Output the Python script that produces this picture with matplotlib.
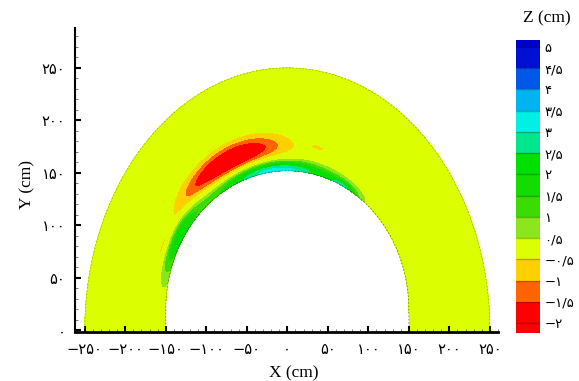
import numpy as np
import matplotlib
matplotlib.use('Agg')
import matplotlib.pyplot as plt
from matplotlib.ticker import MultipleLocator, FuncFormatter

# legend levels (cm) and the colour of each band between them
levels = [-2, -1.5, -1, -0.5, 0.5, 1, 1.5, 2, 2.5, 3, 3.5, 4, 4.5, 5]
band_colors = ['#ff0000', '#ff6400', '#ffd000', '#dcff00', '#8ce61e',
               '#3cdc00', '#14dc00', '#00e000', '#00e68c', '#00f0e6',
               '#00b4f0', '#0058e6', '#0010d2']
under_color = '#ff0000'
over_color = '#0000c8'

# section geometry (cm)
outer_radius = 250
inner_half_width = 150
inner_wall_height = 20
inner_rise = 132

# anomalies: centre (x, y) in cm, spread along the arch (deg),
# spread across the ring (fraction of its thickness), peak value (cm)
blob_x = [-72, -152, 38, -15, -135, 67]
blob_y = [162, 78, 174, 152, 88, 136]
blob_dtheta = [21, 10, 3, 30, 15, 7]
blob_ds = [0.14, 0.08, 0.03, 0.09, 0.09, 0.06]
blob_amp = [-2.6, -0.75, -0.7, 3.3, 2.1, 2.0]

x_ticks = [-250, -200, -150, -100, -50, 0, 50, 100, 150, 200, 250]
y_ticks = [0, 50, 100, 150, 200, 250]

fa_map = str.maketrans('0123456789.-', '۰۱۲۳۴۵۶۷۸۹/−')


def fa(v):
    return f'{v:g}'.translate(fa_map)


# inner opening: short vertical walls with a half ellipse on top
t = np.linspace(0, np.pi, 400)
bx = np.concatenate([[inner_half_width], inner_half_width * np.cos(t), [-inner_half_width]])
by = np.concatenate([[0], inner_wall_height + inner_rise * np.sin(t), [0]])
b_theta = np.degrees(np.arctan2(by, bx))
b_r = np.hypot(bx, by)


def r_inner(theta):
    return np.interp(theta, b_theta, b_r)


def ring_s(x, y):
    th = np.degrees(np.arctan2(y, x))
    ri = r_inner(th)
    return th, (np.hypot(x, y) - ri) / (outer_radius - ri)


# curvilinear grid over the ring
th = np.linspace(0, 180, 721)
s = np.linspace(0, 1, 201)
TH, S = np.meshgrid(th, s)
RI = r_inner(TH)
R = RI + S * (outer_radius - RI)
X = R * np.cos(np.radians(TH))
Y = R * np.sin(np.radians(TH))

Z = np.zeros_like(X)
for bxc, byc, dth, dsv, amp in zip(blob_x, blob_y, blob_dtheta, blob_ds, blob_amp):
    th0, s0 = ring_s(bxc, byc)
    Z += amp * np.exp(-((TH - th0) / dth) ** 2 - ((S - s0) / dsv) ** 2)

fig = plt.figure(figsize=(5.79, 3.81), dpi=100)
ax = fig.add_axes([75 / 579, 1 - 332 / 381, 423 / 579, 304 / 381])

cf = ax.contourf(X, Y, Z, levels=levels,
                 colors=[under_color] + band_colors + [over_color], extend='both')

# faint dashed outlines of the section
ax.plot(bx, by, color='#333333', lw=0.6, ls=(0, (2, 2)), alpha=0.6)
tt = np.linspace(0, np.pi, 300)
ax.plot(outer_radius * np.cos(tt), outer_radius * np.sin(tt),
        color='#8a9a00', lw=0.6, ls=(0, (2, 2)), alpha=0.7)

ax.set_xlim(-262, 260)
ax.set_ylim(-1.5, 288)
for side in ['top', 'right']:
    ax.spines[side].set_visible(False)
ax.spines['bottom'].set_linewidth(2)
ax.spines['left'].set_linewidth(1.5)

ax.set_xticks(x_ticks)
ax.set_yticks(y_ticks)
ax.xaxis.set_minor_locator(MultipleLocator(10))
ax.yaxis.set_minor_locator(MultipleLocator(10))
ax.xaxis.set_major_formatter(FuncFormatter(lambda v, p: fa(v)))
ax.yaxis.set_major_formatter(FuncFormatter(lambda v, p: fa(v)))
ax.tick_params(which='major', direction='in', length=4, width=1.5, labelsize=10.5, pad=7)
ax.tick_params(which='minor', direction='in', length=2, width=0.7, color='#777777')

serif = ['Liberation Serif', 'DejaVu Serif']
fig.text(294 / 579, 1 - 373 / 381, 'X (cm)', family=serif, fontsize=12.5,
         ha='center', va='center')
fig.text(27 / 579, 1 - 185 / 381, 'Y (cm)', family=serif, fontsize=12.5,
         ha='center', va='center', rotation=90)

cax = fig.add_axes([516 / 579, 1 - 333 / 381, 24 / 579, 293 / 381])
cbar = fig.colorbar(cf, cax=cax, extendrect=True, extendfrac=(0.036, 0.025),
                    drawedges=True)
cbar.outline.set_visible(False)
cbar.dividers.set_color('#000000')
cbar.dividers.set_alpha(0.25)
cbar.dividers.set_linewidth(1)
cbar.set_ticks(levels)
cbar.set_ticklabels([fa(v) for v in levels])
cbar.ax.tick_params(length=0, labelsize=9.5, pad=3)
fig.text(547 / 579, 1 - 18 / 381, 'Z (cm)', family=serif, fontsize=12.5,
         ha='center', va='center')

fig.savefig('out.png', dpi=100)
